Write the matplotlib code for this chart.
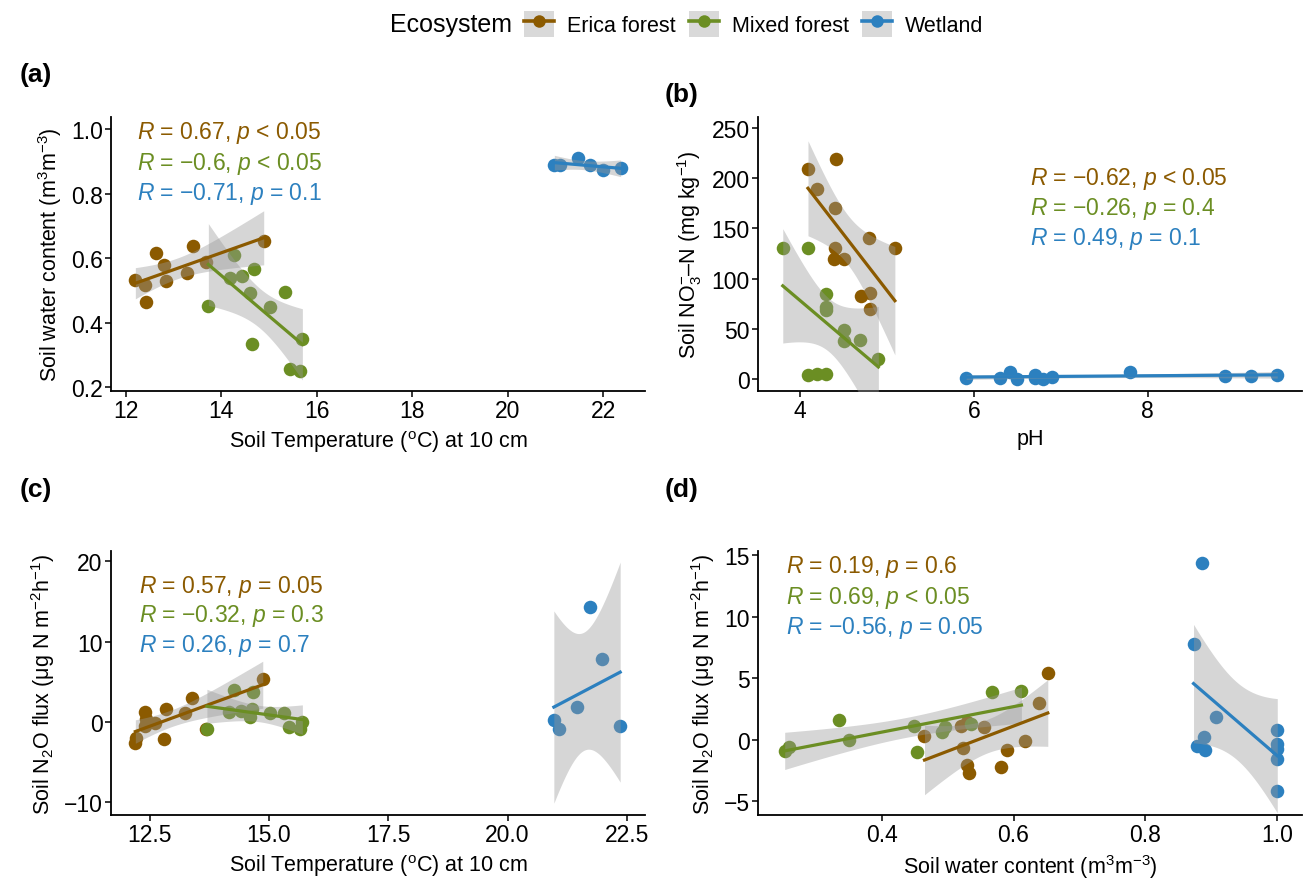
import numpy as np
import matplotlib
matplotlib.use("Agg")
import matplotlib.pyplot as plt
from matplotlib.lines import Line2D
from matplotlib.patches import Rectangle
from matplotlib.legend_handler import HandlerTuple

plt.rcParams["font.family"] = ["Liberation Sans", "DejaVu Sans"]
plt.rcParams["mathtext.fontset"] = "custom"
plt.rcParams["mathtext.rm"] = "Liberation Sans"
plt.rcParams["mathtext.it"] = "Liberation Sans:italic"
plt.rcParams["axes.unicode_minus"] = True

ECOSYSTEMS = ["Erica forest", "Mixed forest", "Wetland"]
COLORS = {"Erica forest": "#8B5A00", "Mixed forest": "#6B8E23", "Wetland": "#2C80BF"}

# (a) soil temperature vs soil water content
a_temp = {
    "Erica forest": [12.20, 12.40, 12.42, 12.63, 12.81, 12.85, 13.28, 13.41, 13.68, 14.89],
    "Mixed forest": [13.73, 14.19, 14.27, 14.43, 14.60, 14.65, 14.68, 15.02, 15.34, 15.44, 15.65, 15.70],
    "Wetland": [20.98, 21.09, 21.47, 21.73, 22.00, 22.37],
}
a_swc = {
    "Erica forest": [0.532, 0.518, 0.463, 0.617, 0.580, 0.529, 0.555, 0.638, 0.588, 0.652],
    "Mixed forest": [0.453, 0.537, 0.610, 0.545, 0.491, 0.335, 0.566, 0.448, 0.496, 0.257, 0.251, 0.349],
    "Wetland": [0.890, 0.890, 0.911, 0.888, 0.873, 0.879],
}
a_stats = ["= 0.67, $\\it{p}$ < 0.05", "= −0.6, $\\it{p}$ < 0.05", "= −0.71, $\\it{p}$ = 0.1"]

# (b) pH vs soil nitrate
b_ph = {
    "Erica forest": [4.09, 4.19, 4.39, 4.40, 4.40, 4.41, 4.50, 4.70, 4.79, 4.80, 4.80, 5.09],
    "Mixed forest": [3.80, 4.09, 4.09, 4.19, 4.30, 4.30, 4.30, 4.30, 4.50, 4.50, 4.69, 4.90],
    "Wetland": [5.91, 6.30, 6.41, 6.50, 6.70, 6.70, 6.80, 6.90, 7.80, 8.89, 9.19, 9.49],
}
b_no3 = {
    "Erica forest": [209, 189, 120, 130, 170, 219, 120, 83, 140, 86, 70, 130],
    "Mixed forest": [130, 130, 4, 5, 5, 85, 72, 69, 49, 38, 39, 20],
    "Wetland": [1, 1, 7, 0, 4, 1, 0, 2, 7, 3, 3, 4],
}
b_stats = ["= −0.62, $\\it{p}$ < 0.05", "= −0.26, $\\it{p}$ = 0.4", "= 0.49, $\\it{p}$ = 0.1"]

# (c) soil temperature vs N2O flux
c_temp = {
    "Erica forest": [12.20, 12.22, 12.40, 12.40, 12.42, 12.61, 12.80, 12.84, 13.25, 13.39, 13.69, 14.87],
    "Mixed forest": [13.70, 14.17, 14.27, 14.42, 14.61, 14.65, 14.67, 15.02, 15.32, 15.43, 15.65, 15.70],
    "Wetland": [20.97, 21.08, 21.46, 21.72, 21.98, 22.36],
}
c_flux = {
    "Erica forest": [-2.57, -2.0, 1.24, -0.5, 0.33, -0.08, -2.16, 1.58, 1.16, 3.03, -0.83, 5.39],
    "Mixed forest": [-0.91, 1.24, 3.98, 1.37, 0.66, 1.58, 3.78, 1.16, 1.08, -0.58, -0.91, 0.0],
    "Wetland": [0.2, -0.83, 1.87, 14.3, 7.8, -0.5],
}
c_stats = ["= 0.57, $\\it{p}$ = 0.05", "= −0.32, $\\it{p}$ = 0.3", "= 0.26, $\\it{p}$ = 0.7"]

# (d) soil water content vs N2O flux
d_swc = {
    "Erica forest": [0.465, 0.520, 0.523, 0.529, 0.529, 0.532, 0.555, 0.581, 0.590, 0.618, 0.638, 0.652],
    "Mixed forest": [0.253, 0.259, 0.335, 0.351, 0.449, 0.453, 0.492, 0.496, 0.536, 0.567, 0.612],
    "Wetland": [0.873, 0.878, 0.886, 0.889, 0.891, 0.907, 1.0, 1.0, 1.0, 1.0, 1.0],
}
d_flux = {
    "Erica forest": [0.30, 1.11, -0.68, 1.49, -2.03, -2.68, 1.08, -2.22, -0.78, -0.11, 3.03, 5.43],
    "Mixed forest": [-0.92, -0.59, 1.62, 0.03, 1.11, -0.95, 0.68, 1.03, 1.30, 3.86, 3.95],
    "Wetland": [7.78, -0.51, 14.4, 0.22, -0.81, 1.89, 0.84, -0.32, -0.73, -1.54, -4.16],
}
d_stats = ["= 0.19, $\\it{p}$ = 0.6", "= 0.69, $\\it{p}$ < 0.05", "= −0.56, $\\it{p}$ = 0.05"]

# two-sided 95% t quantiles
T975 = {3: 3.182, 4: 2.776, 5: 2.571, 6: 2.447, 7: 2.365, 8: 2.306, 9: 2.262,
        10: 2.228, 11: 2.201, 12: 2.179, 13: 2.160, 14: 2.145, 15: 2.131}


def smooth_lm(ax, x, y, color):
    x = np.asarray(x, float)
    y = np.asarray(y, float)
    n = len(x)
    slope, icpt = np.polyfit(x, y, 1)
    xs = np.linspace(x.min(), x.max(), 80)
    fit = icpt + slope * xs
    resid = y - (icpt + slope * x)
    s = np.sqrt(np.sum(resid ** 2) / (n - 2))
    sxx = np.sum((x - x.mean()) ** 2)
    se = s * np.sqrt(1.0 / n + (xs - x.mean()) ** 2 / sxx)
    t = T975.get(n - 2, 2.1)
    ax.fill_between(xs, fit - t * se, fit + t * se, color="#999999", alpha=0.4,
                    linewidth=0, zorder=3)
    ax.plot(xs, fit, color=color, lw=2.3, zorder=4)


def panel(ax, xd, yd, stats, xlim, ylim, xticks, yticks, xlabel, ylabel, tx, ty, dy):
    for eco in ECOSYSTEMS:
        ax.scatter(xd[eco], yd[eco], s=95, color=COLORS[eco], linewidths=0, zorder=2)
    for eco in ECOSYSTEMS:
        smooth_lm(ax, xd[eco], yd[eco], COLORS[eco])
    for i, eco in enumerate(ECOSYSTEMS):
        ax.text(tx, ty - i * dy, "$\\it{R}$ " + stats[i], color=COLORS[eco],
                fontsize=16.5, ha="left", va="center", zorder=5)
    ax.set_xlim(*xlim)
    ax.set_ylim(*ylim)
    ax.set_xticks(xticks)
    ax.set_yticks(yticks)
    ax.set_xlabel(xlabel, fontsize=15.5, labelpad=4)
    ax.set_ylabel(ylabel, fontsize=15.5, labelpad=5)
    for side in ["top", "right"]:
        ax.spines[side].set_visible(False)
    for side in ["left", "bottom"]:
        ax.spines[side].set_linewidth(1.3)
    ax.tick_params(labelsize=16.5, length=4, width=1.1, colors="black", pad=2)


fig = plt.figure(figsize=(13.06, 8.87), dpi=100)
W, H = 1306.0, 887.0


def box(l, t, r, b):
    return [l / W, 1 - b / H, (r - l) / W, (b - t) / H]


ax_a = fig.add_axes(box(111, 118, 645, 392))
ax_b = fig.add_axes(box(758, 118, 1302, 392))
ax_c = fig.add_axes(box(111, 552, 645, 816))
ax_d = fig.add_axes(box(758, 552, 1302, 816))

temp_label = "Soil Temperature ($^{\\mathrm{o}}$C) at 10 cm"
flux_label = "Soil N$_2$O flux (μg N m$^{-2}$h$^{-1}$)"

panel(ax_a, a_temp, a_swc, a_stats, (11.69, 22.88), (0.188, 1.038),
      [12, 14, 16, 18, 20, 22], [0.2, 0.4, 0.6, 0.8, 1.0],
      temp_label, "Soil water content (m$^3$m$^{-3}$)", 12.23, 0.99, 0.094)
ax_a.set_yticklabels(["0.2", "0.4", "0.6", "0.8", "1.0"])

panel(ax_b, b_ph, b_no3, b_stats, (3.515, 9.775), (-12, 261),
      [4, 6, 8], [0, 50, 100, 150, 200, 250],
      "pH", "Soil NO$_3^{-}$–N (mg kg$^{-1}$)", 6.65, 200, 30)

panel(ax_c, c_temp, c_flux, c_stats, (11.69, 22.88), (-11.6, 21.3),
      [12.5, 15.0, 17.5, 20.0, 22.5], [-10, 0, 10, 20],
      temp_label, flux_label, 12.27, 17.0, 3.7)
ax_c.set_xticklabels(["12.5", "15.0", "17.5", "20.0", "22.5"])

panel(ax_d, d_swc, d_flux, d_stats, (0.2125, 1.0375), (-6.1, 15.35),
      [0.4, 0.6, 0.8, 1.0], [-5, 0, 5, 10, 15],
      "Soil water content (m$^3$m$^{-3}$)", flux_label, 0.255, 14.1, 2.45)
ax_d.set_xticklabels(["0.4", "0.6", "0.8", "1.0"])

for lab, x, y in [("(a)", 20, 75), ("(b)", 665, 95), ("(c)", 20, 490), ("(d)", 665, 490)]:
    fig.text(x / W, 1 - y / H, lab, fontsize=19, fontweight="bold", ha="left", va="center")

# legend
handles = []
for eco in ECOSYSTEMS:
    bg = Rectangle((0, 0), 1, 1, facecolor="#d9d9d9", edgecolor="none")
    ln = Line2D([], [], color=COLORS[eco], lw=2.6, marker="o", markersize=9,
                markeredgewidth=0)
    handles.append((bg, ln))
fig.text(390 / W, 1 - 25 / H, "Ecosystem", fontsize=18, ha="left", va="center")
fig.legend(handles, ECOSYSTEMS, handler_map={tuple: HandlerTuple(ndivide=1)},
           loc="center left", bbox_to_anchor=(524 / W, 1 - 25 / H), ncol=3,
           frameon=False, fontsize=15.5, handlelength=1.4, handleheight=1.5,
           handletextpad=0.6, columnspacing=0.6, borderpad=0, borderaxespad=0)

fig.savefig("out.png", dpi=100)
